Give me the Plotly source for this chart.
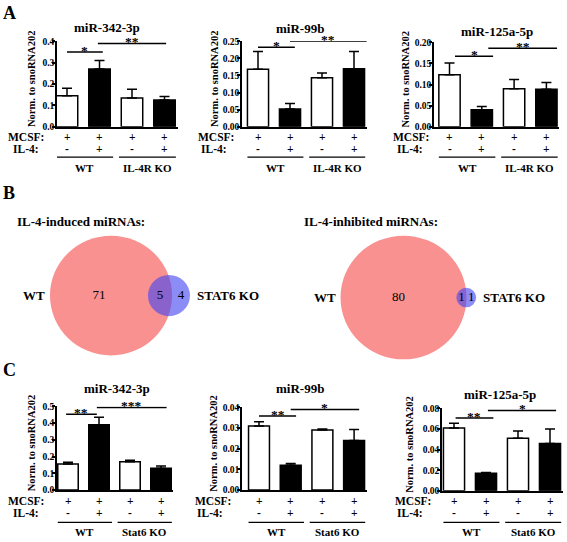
import math
import plotly.graph_objects as go

W, H = 567, 542
FONT = "Liberation Serif"

# ---------------- data ----------------
a_titles = ["miR-342-3p", "miR-99b", "miR-125a-5p"]
a_means = [[0.145, 0.270, 0.135, 0.125],
           [0.168, 0.052, 0.143, 0.170],
           [0.123, 0.040, 0.090, 0.089]]
a_errs = [[0.035, 0.040, 0.040, 0.017],
          [0.052, 0.016, 0.014, 0.050],
          [0.028, 0.008, 0.022, 0.016]]
a_groups = ["WT", "IL-4R KO"]
a_sig = [[(0.0, 1.1, 0.35, "*"), (0.95, 3.05, 0.39, "**")],
         [(0.0, 1.15, 0.233, "*"), (1.0, 3.4, 0.25, "**")],
         [(0.17, 1.35, 0.167, "*"), (1.2, 3.33, 0.186, "**")]]
a_ymax = [0.4, 0.25, 0.20]
a_dtick = [0.1, 0.05, 0.05]
a_fmt = [".1f", ".2f", ".2f"]

c_titles = ["miR-342-3p", "miR-99b", "miR-125a-5p"]
c_means = [[0.155, 0.390, 0.168, 0.130],
           [0.031, 0.012, 0.029, 0.024],
           [0.061, 0.017, 0.051, 0.046]]
c_errs = [[0.010, 0.045, 0.010, 0.013],
          [0.002, 0.0008, 0.0006, 0.0053],
          [0.0045, 0.0008, 0.007, 0.014]]
c_groups = ["WT", "Stat6 KO"]
c_sig = [[(-0.06, 0.93, 0.453, "**"), (0.93, 3.18, 0.494, "***")],
         [(0.0, 1.17, 0.0358, "**"), (1.0, 3.16, 0.039, "*")],
         [(0.05, 1.23, 0.0706, "**"), (1.06, 3.19, 0.078, "*")]]
c_ymax = [0.5, 0.04, 0.08]
c_dtick = [0.1, 0.01, 0.02]
c_fmt = [".1f", ".2f", ".2f"]

conditions = [0, 1, 2, 3]
mcsf_signs = ["+", "+", "+", "+"]
il4_signs = ["-", "+", "-", "+"]
bar_colors = ["white", "black", "white", "black"]

venn_titles = ["IL-4-induced miRNAs:", "IL-4-inhibited miRNAs:"]
venn_only_wt = [71, 80]
venn_both = [5, 1]
venn_only_ko = [4, 1]
venn_set_names = ["WT", "STAT6 KO"]

# ---------------- layout helpers (pixel positions) ----------------
def fx(px):
    return px / W

def fy(py):
    return 1 - py / H

A_layout = dict(axis_px=[57, 242, 434], offset=[10, 16, 15.5], spacing=[32.5, 32, 32.3],
                ytop=[37, 37, 38], ybot=[124, 124, 124], ylab_x=[31, 214, 406],
                title=[(107, 23), (300, 24), (497, 27)],
                mcsf_right=[45, 235, 430], il4_right=[40, 228, 424],
                rows=(134, 147, 155, 166))
C_layout = dict(axis_px=[57, 242, 442], offset=[11, 17, 12], spacing=[31, 31.7, 32],
                ytop=[409, 410, 411], ybot=[494, 494, 495], ylab_x=[31, 214, 410],
                title=[(117, 391), (300, 391), (500, 397)],
                mcsf_right=[45, 232, 432], il4_right=[40, 224, 424],
                rows=(505, 518, 527, 537))

fig = go.Figure()
layout = dict(width=W, height=H, margin=dict(l=0, r=0, t=0, b=0),
              paper_bgcolor="white", plot_bgcolor="rgba(0,0,0,0)",
              showlegend=False, font=dict(family=FONT, color="black"))
shapes = []
annotations = []

def bold(size):
    return dict(family=FONT, size=size, color="#000000", weight="bold")

def add_bar_panel(idx, L, k, title, means, errs, sig, ymax, dtick, fmt, groups):
    xa = "x%d" % idx
    ya = "y%d" % idx
    axis_px = L["axis_px"][k]
    s = L["spacing"][k]
    x_lo = -L["offset"][k] / s
    x_hi = 3.4
    dom_r = axis_px + (x_hi - x_lo) * s
    fig.add_trace(go.Bar(
        x=conditions, y=means, width=0.66,
        marker=dict(color=bar_colors, line=dict(color="black", width=1.5)),
        error_y=dict(type="data", symmetric=False, array=errs, arrayminus=[0] * 4,
                     color="black", thickness=1.5, width=5),
        xaxis=xa, yaxis=ya, showlegend=False, hoverinfo="skip"))
    layout["xaxis%d" % idx] = dict(domain=[fx(axis_px), fx(dom_r)], range=[x_lo, x_hi],
                                   anchor=ya, showline=True, linecolor="black", linewidth=1.5,
                                   showticklabels=False, ticks="", showgrid=False, zeroline=False)
    layout["yaxis%d" % idx] = dict(domain=[fy(L["ybot"][k]), fy(L["ytop"][k])], range=[0, ymax],
                                   anchor=xa, showline=True, linecolor="black", linewidth=1.5,
                                   ticks="outside", ticklen=3, tickwidth=1.5, tickcolor="black",
                                   ticklabelstandoff=-4,
                                   dtick=dtick, tick0=0, tickformat=fmt, tickfont=bold(9.5),
                                   showgrid=False, zeroline=False)
    # title
    tx, ty = L["title"][k]
    annotations.append(dict(text=title, x=fx(tx), y=fy(ty), xref="paper", yref="paper",
                            showarrow=False, font=bold(13), xanchor="center", yanchor="middle",
                            borderpad=0))
    # y label
    yc = (L["ytop"][k] + L["ybot"][k]) / 2 - 5
    annotations.append(dict(text="Norm. to snoRNA202", x=fx(L["ylab_x"][k]), y=fy(yc),
                            xref="paper", yref="paper", showarrow=False, textangle=-90,
                            font=bold(10.5), xanchor="center", yanchor="middle", borderpad=0))
    # significance brackets
    for (x0, x1, yv, txt) in sig:
        shapes.append(dict(type="line", xref=xa, yref=ya, x0=x0, x1=x1, y0=yv, y1=yv,
                           line=dict(color="black", width=1.5)))
        annotations.append(dict(text=txt, x=(x0 + x1) / 2, y=yv, xref=xa, yref=ya,
                                showarrow=False, font=bold(13.5), xanchor="center",
                                yanchor="bottom", yshift=-7, borderpad=0))
    r_mcsf, r_il4, r_line, r_grp = L["rows"]
    annotations.append(dict(text="MCSF:", x=fx(L["mcsf_right"][k]), y=fy(r_mcsf), xref="paper",
                            yref="paper", showarrow=False, font=bold(11.5), xanchor="right",
                            yanchor="middle", borderpad=0))
    annotations.append(dict(text="IL-4:", x=fx(L["il4_right"][k]), y=fy(r_il4), xref="paper",
                            yref="paper", showarrow=False, font=bold(11.5), xanchor="right",
                            yanchor="middle", borderpad=0))
    for i in conditions:
        annotations.append(dict(text=mcsf_signs[i], x=i, y=fy(r_mcsf), xref=xa, yref="paper",
                                showarrow=False, font=bold(11.5), xanchor="center",
                                yanchor="middle", borderpad=0))
        annotations.append(dict(text=il4_signs[i], x=i, y=fy(r_il4), xref=xa, yref="paper",
                                showarrow=False, font=bold(11.5), xanchor="center",
                                yanchor="middle", borderpad=0))
    for (g0, g1), name in zip([(-0.33, 1.42), (1.6, 3.35)], groups):
        shapes.append(dict(type="line", xref=xa, yref="paper", x0=g0, x1=g1,
                           y0=fy(r_line), y1=fy(r_line), line=dict(color="black", width=1.2)))
        annotations.append(dict(text=name, x=(g0 + g1) / 2, y=fy(r_grp), xref=xa, yref="paper",
                                showarrow=False, font=bold(11), xanchor="center", yanchor="middle"))

for k in range(3):
    add_bar_panel(k + 1, A_layout, k, a_titles[k], a_means[k], a_errs[k], a_sig[k],
                  a_ymax[k], a_dtick[k], a_fmt[k], a_groups)
for k in range(3):
    add_bar_panel(k + 4, C_layout, k, c_titles[k], c_means[k], c_errs[k], c_sig[k],
                  c_ymax[k], c_dtick[k], c_fmt[k], c_groups)

# ---------------- Venn diagrams (area proportional) ----------------
KSCALE = 7.0  # axis units per sqrt(count)

def lens_area(d, r1, r2):
    if d >= r1 + r2:
        return 0.0
    if d <= abs(r1 - r2):
        return math.pi * min(r1, r2) ** 2
    a1 = r1 ** 2 * math.acos((d * d + r1 * r1 - r2 * r2) / (2 * d * r1))
    a2 = r2 ** 2 * math.acos((d * d + r2 * r2 - r1 * r1) / (2 * d * r2))
    a3 = 0.5 * math.sqrt((-d + r1 + r2) * (d + r1 - r2) * (d - r1 + r2) * (d + r1 + r2))
    return a1 + a2 - a3

def solve_d(r1, r2, target):
    lo, hi = abs(r1 - r2) + 1e-9, r1 + r2
    for _ in range(200):
        mid = (lo + hi) / 2
        if lens_area(mid, r1, r2) > target:
            lo = mid
        else:
            hi = mid
    return (lo + hi) / 2

venn_axes = [dict(xdom=(0, 285), ydom=(228, 366), cx=111, cy=296, title=(15, 221)),
             dict(xdom=(285, 567), ydom=(228, 366), cx=403.5, cy=298, title=(302, 221))]

for v in range(2):
    idx = 7 + v
    xa, ya = "x%d" % idx, "y%d" % idx
    VA = venn_axes[v]
    r1 = KSCALE * math.sqrt(venn_only_wt[v] + venn_both[v])
    r2 = KSCALE * math.sqrt(venn_only_ko[v] + venn_both[v])
    d = solve_d(r1, r2, math.pi * KSCALE ** 2 * venn_both[v])
    layout["xaxis%d" % idx] = dict(domain=[fx(VA["xdom"][0]), fx(VA["xdom"][1])],
                                   range=[VA["xdom"][0] - VA["cx"], VA["xdom"][1] - VA["cx"]],
                                   anchor=ya, visible=False, fixedrange=True)
    layout["yaxis%d" % idx] = dict(domain=[fy(VA["ydom"][1]), fy(VA["ydom"][0])],
                                   range=[VA["cy"] - VA["ydom"][1], VA["cy"] - VA["ydom"][0]],
                                   anchor=xa, visible=False, fixedrange=True)
    shapes.append(dict(type="circle", xref=xa, yref=ya, x0=-r1, x1=r1, y0=-r1, y1=r1,
                       fillcolor="rgb(250,145,145)", line=dict(width=0), layer="below"))
    shapes.append(dict(type="circle", xref=xa, yref=ya, x0=d - r2, x1=d + r2, y0=-r2, y1=r2,
                       fillcolor="rgba(70,70,240,0.62)", line=dict(width=0), layer="below"))
    xs = [(-r1 + d - r2) / 2, (d - r2 + r1) / 2, (r1 + d + r2) / 2]
    fig.add_trace(go.Scatter(
        x=xs, y=[0, 0, 0], mode="text",
        text=[str(venn_only_wt[v]), str(venn_both[v]), str(venn_only_ko[v])],
        textposition="middle center",
        textfont=dict(family=FONT, size=13, color="black"),
        xaxis=xa, yaxis=ya, showlegend=False, hoverinfo="skip"))
    annotations.append(dict(text=venn_set_names[0], x=-r1 - 3, y=0, xref=xa, yref=ya,
                            showarrow=False, font=bold(13), xanchor="right", yanchor="middle"))
    annotations.append(dict(text=venn_set_names[1], x=d + r2 + 5, y=0, xref=xa, yref=ya,
                            showarrow=False, font=bold(13), xanchor="left", yanchor="middle"))
    tx, ty = VA["title"]
    annotations.append(dict(text=venn_titles[v], x=fx(tx), y=fy(ty), xref="paper", yref="paper",
                            showarrow=False, font=bold(13), xanchor="left", yanchor="middle"))

# panel letters
for letter, py in [("A", 8), ("B", 192), ("C", 372)]:
    annotations.append(dict(text=letter, x=fx(1), y=fy(py), xref="paper", yref="paper",
                            showarrow=False, font=bold(18), xanchor="left", yanchor="middle"))

layout["shapes"] = shapes
layout["annotations"] = annotations
fig.update_layout(**layout)
fig.write_html("out.html", config={"displayModeBar": False},
               post_script="document.body.style.margin='0';document.body.style.padding='0';")
